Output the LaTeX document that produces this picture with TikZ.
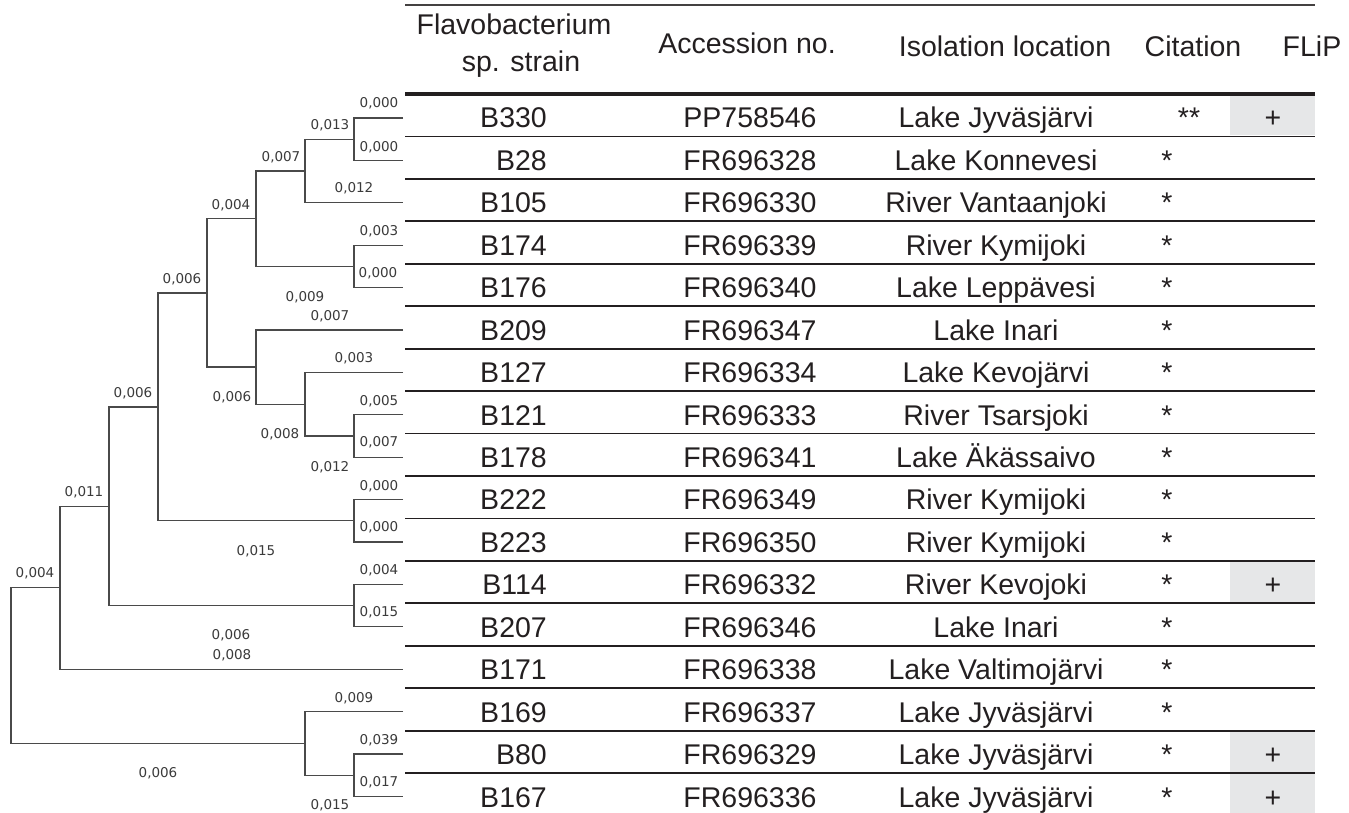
\documentclass[tikz,border=0pt]{standalone}
\usepackage{fontspec}
\setmainfont{Liberation Sans}
\newfontfamily\labfont{DejaVu Sans}
\definecolor{treegray}{HTML}{4A4A4A}
\definecolor{labgray}{HTML}{3A3A3A}
\definecolor{tabblack}{HTML}{231F20}
\definecolor{flipgray}{HTML}{E6E7E8}
\begin{document}
\begin{tikzpicture}[x=1pt,y=-1pt,
  tree/.style={draw=treegray,line width=1.3pt},
  blab/.style={font=\labfont\fontsize{13.5}{14}\selectfont,text=labgray,inner sep=0pt},
  cell/.style={font=\fontsize{28.5}{30}\selectfont,text=tabblack,inner sep=0pt,anchor=base},
  rule/.style={draw=tabblack,line width=1.8pt},
  toprule/.style={draw=tabblack!85,line width=2pt},
  midrule/.style={draw=tabblack,line width=4pt}]
\useasboundingbox (0,0) rectangle (1349,813);

% ---------- table backgrounds (FLiP cells) ----------
\foreach \t/\b in {96/135, 562/602, 732/772, 774/813}
  \fill[flipgray] (1230,\t) rectangle (1315,\b);

% ---------- table rules ----------
\draw[toprule] (405,5) -- (1315,5);
\draw[midrule] (405,94) -- (1315,94);
\foreach \k in {1,...,16}
  \draw[rule] (405,{94+42.44*\k}) -- (1315,{94+42.44*\k});

% ---------- header ----------
\node[cell] (h1) at (514,35) {Flavobacterium};
\node[cell] (h1b) at (521,72) {sp. strain};
\node[cell] (h2) at (747,54) {Accession no.};
\node[cell] (h3) at (1005,57) {Isolation location};
\node[cell] (h4) at (1193,57) {Citation};
\node[cell] (h5) at (1312,57) {FLiP};

% ---------- rows ----------
\foreach \k/\s/\a/\l/\c/\cx in {
  0/B330/PP758546/Lake Jyväsjärvi/**/1189,
  1/B28/FR696328/Lake Konnevesi/*/1167,
  2/B105/FR696330/River Vantaanjoki/*/1167,
  3/B174/FR696339/River Kymijoki/*/1167,
  4/B176/FR696340/Lake Leppävesi/*/1167,
  5/B209/FR696347/Lake Inari/*/1167,
  6/B127/FR696334/Lake Kevojärvi/*/1167,
  7/B121/FR696333/River Tsarsjoki/*/1167,
  8/B178/FR696341/Lake Äkässaivo/*/1167,
  9/B222/FR696349/River Kymijoki/*/1167,
  10/B223/FR696350/River Kymijoki/*/1167,
  11/B114/FR696332/River Kevojoki/*/1167,
  12/B207/FR696346/Lake Inari/*/1167,
  13/B171/FR696338/Lake Valtimojärvi/*/1167,
  14/B169/FR696337/Lake Jyväsjärvi/*/1167,
  15/B80/FR696329/Lake Jyväsjärvi/*/1167,
  16/B167/FR696336/Lake Jyväsjärvi/*/1167}
{
  \node[cell,anchor=base east] (s\k) at (547,{128+42.44*\k}) {\s};
  \node[cell] (a\k) at (750,{128+42.44*\k}) {\a};
  \node[cell] (loc\k) at (996,{128+42.44*\k}) {\l};
  \node[cell] (c\k) at (\cx,{128+42.44*\k}) {\c};
}
\foreach \k in {0,11,15,16}
  \node[cell] (f\k) at (1273,{128+42.44*\k}) {+};

% ---------- tree: leaves ----------
\foreach \k in {0,...,16}
  \coordinate (l\k) at (403,{118+42.4*\k});
% internal nodes
\coordinate (n1) at (354,139.2);
\coordinate (n2) at (305,171.0);
\coordinate (n3) at (354,266.4);
\coordinate (n4) at (256,218.7);
\coordinate (n5) at (354,436.0);
\coordinate (n6) at (305,404.2);
\coordinate (n7) at (256,367.1);
\coordinate (n8) at (207,292.9);
\coordinate (n9) at (354,520.8);
\coordinate (n10) at (158,406.85);
\coordinate (n11) at (354,605.6);
\coordinate (n12) at (109,506.2);
\coordinate (n13) at (60,587.7);
\coordinate (n14) at (354,775.2);
\coordinate (n15) at (305,743.4);
\coordinate (root) at (11,665.55);

\draw[tree] (l0) -| (n1) |- (l1);
\draw[tree] (n1) -| (n2) |- (l2);
\draw[tree] (l3) -| (n3) |- (l4);
\draw[tree] (n2) -| (n4) |- (n3);
\draw[tree] (l7) -| (n5) |- (l8);
\draw[tree] (l6) -| (n6) |- (n5);
\draw[tree] (l5) -| (n7) |- (n6);
\draw[tree] (n4) -| (n8) |- (n7);
\draw[tree] (l9) -| (n9) |- (l10);
\draw[tree] (n8) -| (n10) |- (n9);
\draw[tree] (l11) -| (n11) |- (l12);
\draw[tree] (n10) -| (n12) |- (n11);
\draw[tree] (n12) -| (n13) |- (l13);
\draw[tree] (l15) -| (n14) |- (l16);
\draw[tree] (l14) -| (n15) |- (n14);
\draw[tree] (n13) -| (root) |- (n15);

% ---------- branch labels ----------
\node[blab] (b1) at (379,103) {0,000};
\node[blab] (b2) at (330,125) {0,013};
\node[blab] (b3) at (379,147) {0,000};
\node[blab] (b4) at (281,157) {0,007};
\node[blab] (b5) at (354,188) {0,012};
\node[blab] (b6) at (231,205) {0,004};
\node[blab] (b7) at (379,231) {0,003};
\node[blab] (b8) at (378,273) {0,000};
\node[blab] (b9) at (182,279) {0,006};
\node[blab] (b10) at (305,297) {0,009};
\node[blab] (b11) at (330,316) {0,007};
\node[blab] (b12) at (354,358) {0,003};
\node[blab] (b13) at (133,393) {0,006};
\node[blab] (b14) at (232,397) {0,006};
\node[blab] (b15) at (379,401) {0,005};
\node[blab] (b16) at (280,434) {0,008};
\node[blab] (b17) at (379,442) {0,007};
\node[blab] (b18) at (330,467) {0,012};
\node[blab] (b19) at (379,486) {0,000};
\node[blab] (b20) at (84,492) {0,011};
\node[blab] (b21) at (379,527) {0,000};
\node[blab] (b22) at (256,551) {0,015};
\node[blab] (b23) at (379,570) {0,004};
\node[blab] (b24) at (35,573) {0,004};
\node[blab] (b25) at (379,612) {0,015};
\node[blab] (b26) at (231,635) {0,006};
\node[blab] (b27) at (232,655) {0,008};
\node[blab] (b28) at (354,698) {0,009};
\node[blab] (b29) at (379,740) {0,039};
\node[blab] (b30) at (158,773) {0,006};
\node[blab] (b31) at (379,782) {0,017};
\node[blab] (b32) at (330,805) {0,015};
\end{tikzpicture}
\end{document}
